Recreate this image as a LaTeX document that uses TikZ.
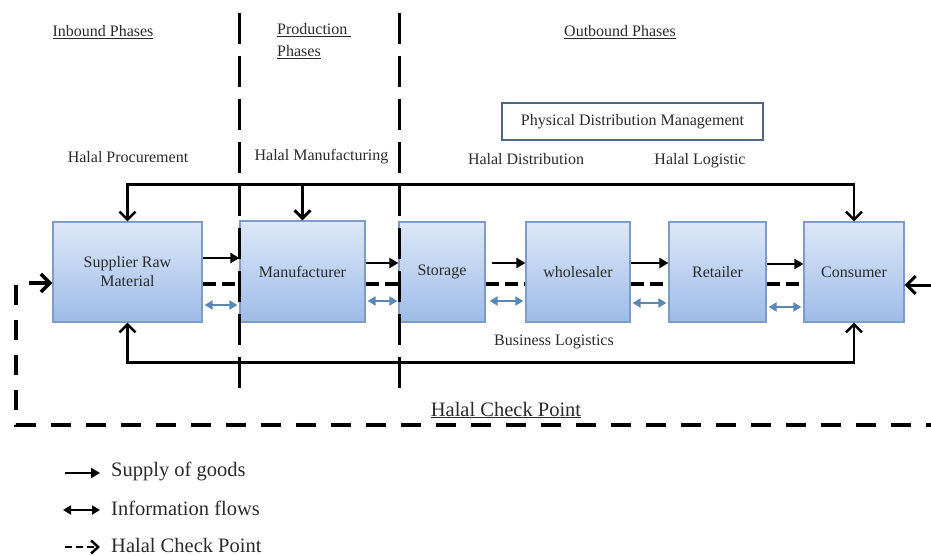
\documentclass[tikz,border=0pt]{standalone}
\usepackage{fontspec}
\setmainfont{Liberation Serif}
\usetikzlibrary{arrows.meta}
\definecolor{txt}{HTML}{2A2A2A}
\definecolor{boxedge}{HTML}{7E9CC6}
\definecolor{boxtop}{HTML}{DDE8F8}
\definecolor{boxbot}{HTML}{9DBBE8}
\definecolor{info}{HTML}{5A88B5}
\definecolor{pdm}{HTML}{4E6686}
\tikzset{
 lbl/.style={text=txt, font=\fontsize{16}{19}\selectfont, inner sep=0pt},
 big/.style={text=txt, font=\fontsize{20.5}{24}\selectfont, inner sep=0pt},
 box/.style={draw=boxedge, line width=1.2pt, top color=boxtop, bottom color=boxbot, text=txt, font=\fontsize{16}{19}\selectfont, align=center, inner sep=2pt},
 phase/.style={line width=3pt, dash pattern=on 31pt off 12pt},
 halal/.style={line width=3.5pt, dash pattern=on 20pt off 15pt},
 supply/.style={line width=2.5pt, -{Triangle[length=9pt,width=10pt]}},
 infoarr/.style={draw=info, line width=2pt, {Triangle[length=8pt,width=9pt]}-{Triangle[length=8pt,width=9pt]}},
 hcp/.style={line width=3.5pt, dash pattern=on 13pt off 6pt},
 fb/.style={line width=2.5pt},
 barb/.style={-{Straight Barb[length=8pt,width=16pt]}},
}
\begin{document}
\begin{tikzpicture}[x=1pt,y=-1pt]
\useasboundingbox (0,0) rectangle (931,556);
% boxes
\node[box, minimum width=149pt, minimum height=100pt] (sup) at (127.5,272) {Supplier Raw\\Material};
\node[box, minimum width=125pt, minimum height=101pt] (man) at (302.5,271.5) {Manufacturer};
\node[box, minimum width=86pt, minimum height=100pt] (sto) at (442,272) {Storage};
\node[box, minimum width=104pt, minimum height=100pt] (who) at (578,272) {wholesaler};
\node[box, minimum width=97pt, minimum height=100pt] (ret) at (717.5,272) {Retailer};
\node[box, minimum width=100pt, minimum height=100pt] (con) at (854,272) {Consumer};
% phase lines
\coordinate (p1t) at (239,13); \coordinate (p1b) at (239,390);
\coordinate (p2t) at (399,13); \coordinate (p2b) at (399,390);
\draw[phase] (p1t) -- (p1b);
\draw[phase] (p2t) -- (p2b);
% headings
\node[lbl] (inb) at (103,32) {\underline{Inbound Phases}};
\node[lbl, anchor=north west, align=left] (prod) at (277,23) {\underline{Production\ }\\[3pt]\underline{Phases}};
\node[lbl] (outb) at (620,32) {\underline{Outbound Phases}};
\node[draw=pdm, line width=2pt, lbl, minimum width=261pt, minimum height=37pt] (pdmb) at (632.5,121.5) {Physical Distribution Management};
\node[lbl] (hp) at (128,157) {Halal Procurement};
\node[lbl] (hm) at (321.5,157) {Halal Manufacturing};
\node[lbl] (hd) at (526,159) {Halal Distribution};
\node[lbl] (hl) at (700,161) {Halal Logistic};
\node[lbl] (bl) at (554,342) {Business Logistics};
% feedback loops
\draw[fb, {Straight Barb[length=8pt,width=16pt]}-{Straight Barb[length=8pt,width=16pt]}] (sup.north) -- ++(0,-37) -| (con.north);
\coordinate (mt) at (302.5,185);
\draw[fb, barb, line width=3pt] (mt) -- (man.north);
\draw[fb, {Straight Barb[length=8pt,width=16pt]}-{Straight Barb[length=8pt,width=16pt]}] (sup.south) -- ++(0,40) -| (con.south);
% supply arrows
\draw[supply] (sup.east |- 0,258) -- (man.west |- 0,258);
\draw[supply] (man.east |- 0,263) -- (sto.west |- 0,263);
\draw[supply, shorten <=6pt] (sto.east |- 0,263) -- (who.west |- 0,263);
\draw[supply] (who.east |- 0,263) -- (ret.west |- 0,263);
\draw[supply] (ret.east |- 0,264) -- (con.west |- 0,264);
% halal check dashes
\draw[hcp] (sup.east |- 0,284) -- (man.west |- 0,284);
\draw[hcp] (man.east |- 0,284) -- (sto.west |- 0,284);
\draw[hcp] (sto.east |- 0,284) -- (who.west |- 0,284);
\draw[hcp] (who.east |- 0,284) -- (ret.west |- 0,284);
\draw[hcp] (ret.east |- 0,284) -- (con.west |- 0,284);
% info arrows
\draw[infoarr, shorten <=2pt, shorten >=2pt] (sup.east |- 0,305) -- (man.west |- 0,305);
\draw[infoarr, shorten <=2pt, shorten >=1pt] (man.east |- 0,301) -- (sto.west |- 0,301);
\draw[infoarr, shorten <=4pt, shorten >=2pt] (sto.east |- 0,301) -- (who.west |- 0,301);
\draw[infoarr, shorten <=2pt, shorten >=2pt] (who.east |- 0,303) -- (ret.west |- 0,303);
\draw[infoarr, shorten <=2pt, shorten >=2pt] (ret.east |- 0,307) -- (con.west |- 0,307);
% outer halal check
\coordinate (hl1) at (29,283);
\draw[fb, -{Straight Barb[length=9pt,width=18pt]}, line width=3.5pt] (hl1) -- (sup.west |- hl1);
\coordinate (hr1) at (931,285);
\draw[fb, -{Straight Barb[length=9pt,width=18pt]}, line width=3pt] (hr1) -- (con.east |- hr1);
\coordinate (lv) at (16,285); \coordinate (lc) at (16,425); \coordinate (rc) at (931,425);
\draw[halal] (lv) -- (lc) -- (rc);
\node[big] (hcpl) at (506,410) {\underline{Halal Check Point}};
% legend
\coordinate (l1a) at (65,473); \coordinate (l1b) at (100,473);
\draw[supply] (l1a) -- (l1b);
\node[big, anchor=west] (lg1) at (111,471) {Supply of goods};
\coordinate (l2a) at (63,510); \coordinate (l2b) at (100,510);
\draw[line width=2pt, {Triangle[length=8pt,width=9pt]}-{Triangle[length=8pt,width=9pt]}] (l2a) -- (l2b);
\node[big, anchor=west] (lg2) at (111,508) {Information flows};
\coordinate (l3a) at (65,547); \coordinate (l3b) at (100,547);
\draw[line width=2.5pt, dash pattern=on 7pt off 4pt, -{Straight Barb[length=7pt,width=13pt]}] (l3a) -- (l3b);
\node[big, anchor=west] (lg3) at (111,545) {Halal Check Point};
\end{tikzpicture}
\end{document}
